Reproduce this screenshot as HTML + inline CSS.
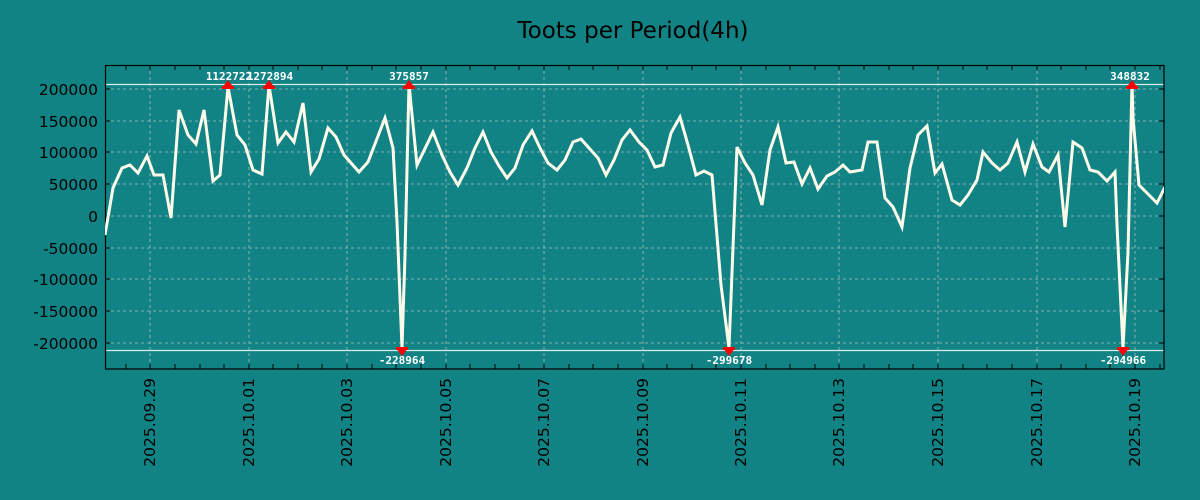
<!DOCTYPE html>
<html><head><meta charset="utf-8"><style>
html,body{margin:0;padding:0;background:#118385;}
svg{display:block;font-family:"DejaVu Sans","Liberation Sans",sans-serif;}
</style></head><body>
<svg width="1200" height="500" viewBox="0 0 1200 500">
<rect width="1200" height="500" fill="#118385"/>
<text x="633" y="38" font-size="23" text-anchor="middle" fill="#000">Toots per Period(4h)</text>
<g stroke="#a9bcbc" stroke-width="0.8" stroke-dasharray="3,3">
<line x1="105" x2="1164" y1="89" y2="89"/><line x1="105" x2="1164" y1="121" y2="121"/><line x1="105" x2="1164" y1="152" y2="152"/><line x1="105" x2="1164" y1="184" y2="184"/><line x1="105" x2="1164" y1="216" y2="216"/><line x1="105" x2="1164" y1="248" y2="248"/><line x1="105" x2="1164" y1="279" y2="279"/><line x1="105" x2="1164" y1="311" y2="311"/><line x1="105" x2="1164" y1="343" y2="343"/>
<line y1="65" y2="369" x1="150" x2="150"/><line y1="65" y2="369" x1="249" x2="249"/><line y1="65" y2="369" x1="347" x2="347"/><line y1="65" y2="369" x1="446" x2="446"/><line y1="65" y2="369" x1="544" x2="544"/><line y1="65" y2="369" x1="643" x2="643"/><line y1="65" y2="369" x1="741" x2="741"/><line y1="65" y2="369" x1="839" x2="839"/><line y1="65" y2="369" x1="938" x2="938"/><line y1="65" y2="369" x1="1037" x2="1037"/><line y1="65" y2="369" x1="1135" x2="1135"/>
</g>
<line x1="105" x2="1164" y1="84.5" y2="84.5" stroke="#d8ecea" stroke-width="1.2"/>
<line x1="105" x2="1164" y1="350.5" y2="350.5" stroke="#d8ecea" stroke-width="1.2"/>
<g stroke="#000" stroke-width="1">
<path d="M105,89h5M105,121h5M105,152h5M105,184h5M105,216h5M105,248h5M105,279h5M105,311h5M105,343h5"/>
<path d="M1164,89h-5M1164,121h-5M1164,152h-5M1164,184h-5M1164,216h-5M1164,248h-5M1164,279h-5M1164,311h-5M1164,343h-5"/>
<path d="M126,369v-5M150,369v-5M175,369v-5M200,369v-5M224,369v-5M249,369v-5M273,369v-5M298,369v-5M322,369v-5M347,369v-5M372,369v-5M396,369v-5M421,369v-5M446,369v-5M470,369v-5M495,369v-5M519,369v-5M544,369v-5M569,369v-5M593,369v-5M618,369v-5M643,369v-5M667,369v-5M692,369v-5M716,369v-5M741,369v-5M766,369v-5M790,369v-5M815,369v-5M839,369v-5M864,369v-5M889,369v-5M913,369v-5M938,369v-5M963,369v-5M987,369v-5M1012,369v-5M1037,369v-5M1061,369v-5M1086,369v-5M1110,369v-5M1135,369v-5M1160,369v-5"/>
<path d="M126,65v5M150,65v5M175,65v5M200,65v5M224,65v5M249,65v5M273,65v5M298,65v5M322,65v5M347,65v5M372,65v5M396,65v5M421,65v5M446,65v5M470,65v5M495,65v5M519,65v5M544,65v5M569,65v5M593,65v5M618,65v5M643,65v5M667,65v5M692,65v5M716,65v5M741,65v5M766,65v5M790,65v5M815,65v5M839,65v5M864,65v5M889,65v5M913,65v5M938,65v5M963,65v5M987,65v5M1012,65v5M1037,65v5M1061,65v5M1086,65v5M1110,65v5M1135,65v5M1160,65v5"/>
</g>
<rect x="105.5" y="65.5" width="1058.5" height="303.5" fill="none" stroke="#000" stroke-width="1.2"/>
<g font-size="15.5" fill="#000" text-anchor="end">
<text x="98" y="95">200000</text><text x="98" y="127">150000</text><text x="98" y="158">100000</text><text x="98" y="190">50000</text><text x="98" y="222">0</text><text x="98" y="254">-50000</text><text x="98" y="285">-100000</text><text x="98" y="317">-150000</text><text x="98" y="349">-200000</text>
</g>
<g font-size="15.5" fill="#000" text-anchor="end">
<text transform="translate(155,378) rotate(-90)">2025.09.29</text>
<text transform="translate(254,378) rotate(-90)">2025.10.01</text>
<text transform="translate(352,378) rotate(-90)">2025.10.03</text>
<text transform="translate(451,378) rotate(-90)">2025.10.05</text>
<text transform="translate(549,378) rotate(-90)">2025.10.07</text>
<text transform="translate(648,378) rotate(-90)">2025.10.09</text>
<text transform="translate(746,378) rotate(-90)">2025.10.11</text>
<text transform="translate(844,378) rotate(-90)">2025.10.13</text>
<text transform="translate(943,378) rotate(-90)">2025.10.15</text>
<text transform="translate(1042,378) rotate(-90)">2025.10.17</text>
<text transform="translate(1140,378) rotate(-90)">2025.10.19</text>
</g>
<svg x="105" y="65" width="1059" height="304" viewBox="105 65 1059 304" overflow="hidden">
<polyline fill="none" stroke="#fffbea" stroke-width="3" stroke-linejoin="miter" points="105,235 113,188 122,168 130,165 138,173 147,156 154,175 163,175 171,218 179,110 188,135 196,144 204,110 213,181 220,175 228,87 237,135 245,145 253,170 262,174 269,85 278,143 286,132 294,142 303,103 311,172 319,159 328,128 336,137 344,155 359,172 368,162 385,118 393,148 397,222 402,348 405,255 409,84 417,165 433,132 442,155 450,172 458,185 467,168 475,148 483,132 491,152 499,166 507,178 515,168 523,145 532,131 540,148 548,163 557,170 565,160 573,142 581,139 589,148 598,158 606,175 614,160 622,140 630,130 639,142 647,150 655,167 663,165 671,133 680,117 688,145 696,175 704,171 712,175 721,285 729,348 737,147 745,163 753,175 762,205 770,150 778,127 786,163 794,162 802,184 810,168 818,189 827,176 835,172 843,165 850,172 862,170 868,142 877,142 885,198 893,207 902,227 910,168 918,135 927,126 935,173 942,164 952,200 960,205 968,195 977,180 983,152 992,163 1000,170 1008,163 1017,142 1025,172 1033,144 1042,167 1049,172 1058,155 1065,227 1073,142 1082,148 1090,170 1098,172 1107,181 1115,172 1117,225 1123,348 1128,252 1132,84 1133,118 1139,185 1147,193 1157,203 1165,187"/>
</svg>
<g fill="#ff0000">
<path d="M222,88 l6,-8 l6,8z"/><rect x="222" y="86" width="12" height="3"/>
<path d="M263,88 l6,-8 l6,8z"/><rect x="263" y="86" width="12" height="3"/>
<path d="M403,88 l6,-8 l6,8z"/><rect x="403" y="86" width="12" height="3"/>
<path d="M1126,88 l6,-8 l6,8z"/><rect x="1126" y="86" width="12" height="3"/>
<path d="M396,348 l6,8 l6,-8z"/><rect x="396" y="347" width="12" height="3"/>
<path d="M723,348 l6,8 l6,-8z"/><rect x="723" y="347" width="12" height="3"/>
<path d="M1117,348 l6,8 l6,-8z"/><rect x="1117" y="347" width="12" height="3"/>
</g>
<g font-size="11" font-weight="bold" fill="#fff" text-anchor="middle" font-family="'DejaVu Sans Mono','Liberation Mono',monospace">
<text x="229" y="80">1122722</text><text x="270" y="80">1272894</text><text x="409" y="80">375857</text><text x="1130" y="80">348832</text>
<text x="402" y="364">-228964</text><text x="729" y="364">-299678</text><text x="1123" y="364">-294966</text>
</g>
</svg>
</body></html>
